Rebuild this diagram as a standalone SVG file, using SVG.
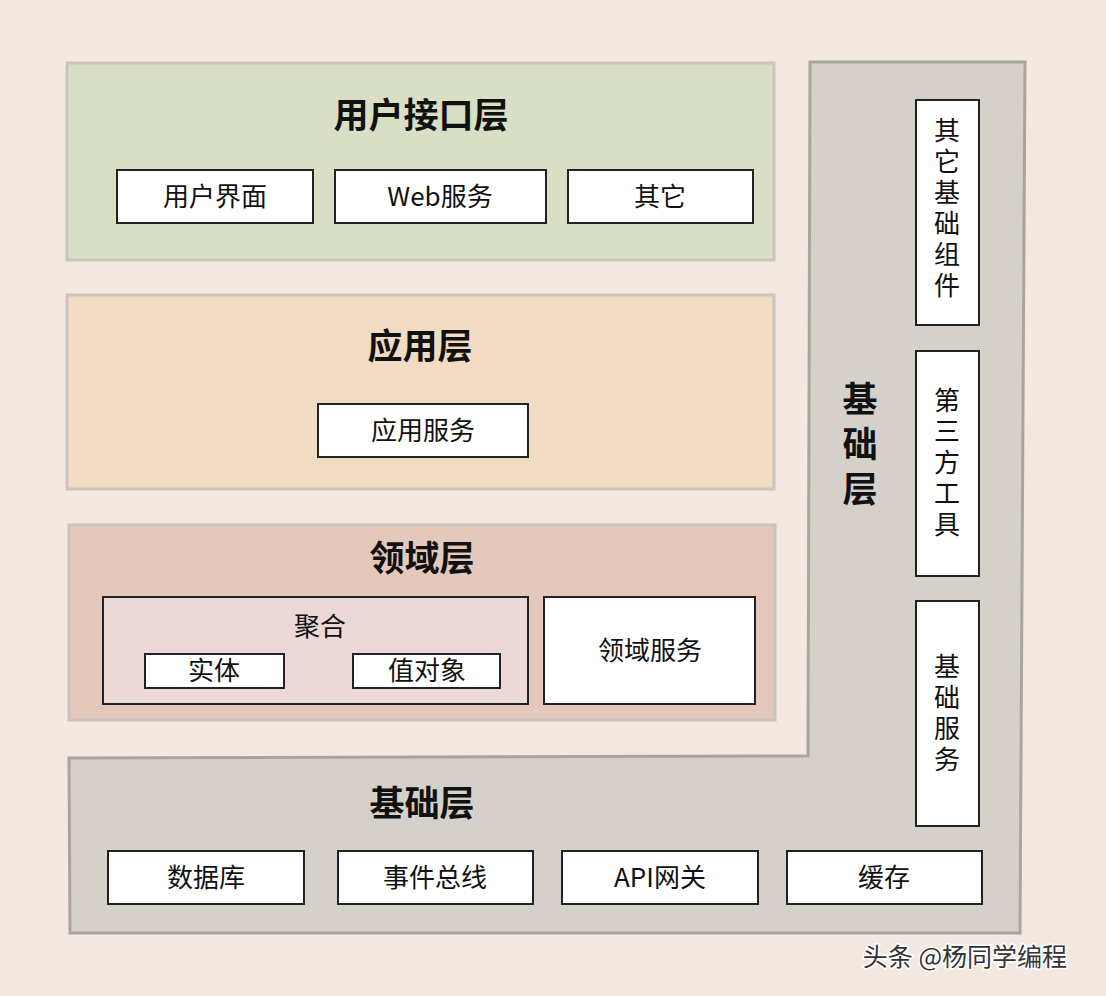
<svg xmlns="http://www.w3.org/2000/svg" width="1106" height="996" viewBox="0 0 1106 996">
<style>
text{font-family:"Noto Sans CJK SC","Noto Sans",sans-serif;fill:#111;text-anchor:middle}
.t{font-size:35px;font-weight:bold}
.b{font-size:26px}
.v{font-size:26px}
.box{fill:#fff;stroke:#222;stroke-width:2}
.layer{stroke:#c9c4bc;stroke-width:3}
</style>
<rect width="1106" height="996" fill="#f3e9e0"/>
<g id="infra">
<polygon points="810,62 1025,62 1020,933 70,933 69,758 808,756" fill="#d5d0ca" stroke="#a9a49e" stroke-width="3"/>
<text class="t" x="422" y="816">基础层</text>
<text class="t" x="860" y="412">基</text>
<text class="t" x="860" y="457">础</text>
<text class="t" x="860" y="502">层</text>
</g>
<g id="ui">
<rect class="layer" x="67" y="63" width="707" height="197" fill="#d9dfc4"/>
<text class="t" x="421" y="128">用户接口层</text>
<rect class="box" x="117" y="170" width="196" height="53"/><text class="b" x="215" y="206">用户界面</text>
<rect class="box" x="335" y="170" width="211" height="53"/><text class="b" x="440" y="206">Web服务</text>
<rect class="box" x="568" y="170" width="185" height="53"/><text class="b" x="660" y="206">其它</text>
</g>
<g id="app">
<rect class="layer" x="67" y="295" width="707" height="194" fill="#f1dcc3"/>
<text class="t" x="420" y="359">应用层</text>
<rect class="box" x="318" y="404" width="210" height="53"/><text class="b" x="423" y="440">应用服务</text>
</g>
<g id="domain">
<rect class="layer" x="69" y="525" width="706" height="195" fill="#e3c8bb"/>
<text class="t" x="422" y="571">领域层</text>
<rect x="103" y="597" width="425" height="107" fill="#ead9d6" stroke="#222" stroke-width="2"/>
<text class="b" x="320" y="636">聚合</text>
<rect class="box" x="145" y="654" width="139" height="34"/><text class="b" x="214" y="680">实体</text>
<rect class="box" x="353" y="654" width="147" height="34"/><text class="b" x="427" y="680">值对象</text>
<rect class="box" x="544" y="597" width="211" height="107"/><text class="b" x="650" y="660">领域服务</text>
</g>
<g id="right">
<rect class="box" x="916" y="100" width="63" height="225"/>
<text class="v" x="947" y="140">其</text><text class="v" x="947" y="171">它</text><text class="v" x="947" y="202">基</text><text class="v" x="947" y="233">础</text><text class="v" x="947" y="264">组</text><text class="v" x="947" y="295">件</text>
<rect class="box" x="916" y="351" width="63" height="225"/>
<text class="v" x="947" y="410">第</text><text class="v" x="947" y="441">三</text><text class="v" x="947" y="472">方</text><text class="v" x="947" y="503">工</text><text class="v" x="947" y="534">具</text>
<rect class="box" x="916" y="601" width="63" height="225"/>
<text class="v" x="947" y="676">基</text><text class="v" x="947" y="707">础</text><text class="v" x="947" y="738">服</text><text class="v" x="947" y="769">务</text>
</g>
<g id="bottom">
<rect class="box" x="108" y="851" width="196" height="53"/><text class="b" x="206" y="887">数据库</text>
<rect class="box" x="338" y="851" width="195" height="53"/><text class="b" x="435" y="887">事件总线</text>
<rect class="box" x="562" y="851" width="196" height="53"/><text class="b" x="660" y="887">API网关</text>
<rect class="box" x="787" y="851" width="195" height="53"/><text class="b" x="884" y="887">缓存</text>
</g>
<g id="connectors"/>
<text x="965" y="966" style="font-size:25px;fill:#333;stroke:#fff;stroke-width:3;paint-order:stroke">头条 @杨同学编程</text>
</svg>
